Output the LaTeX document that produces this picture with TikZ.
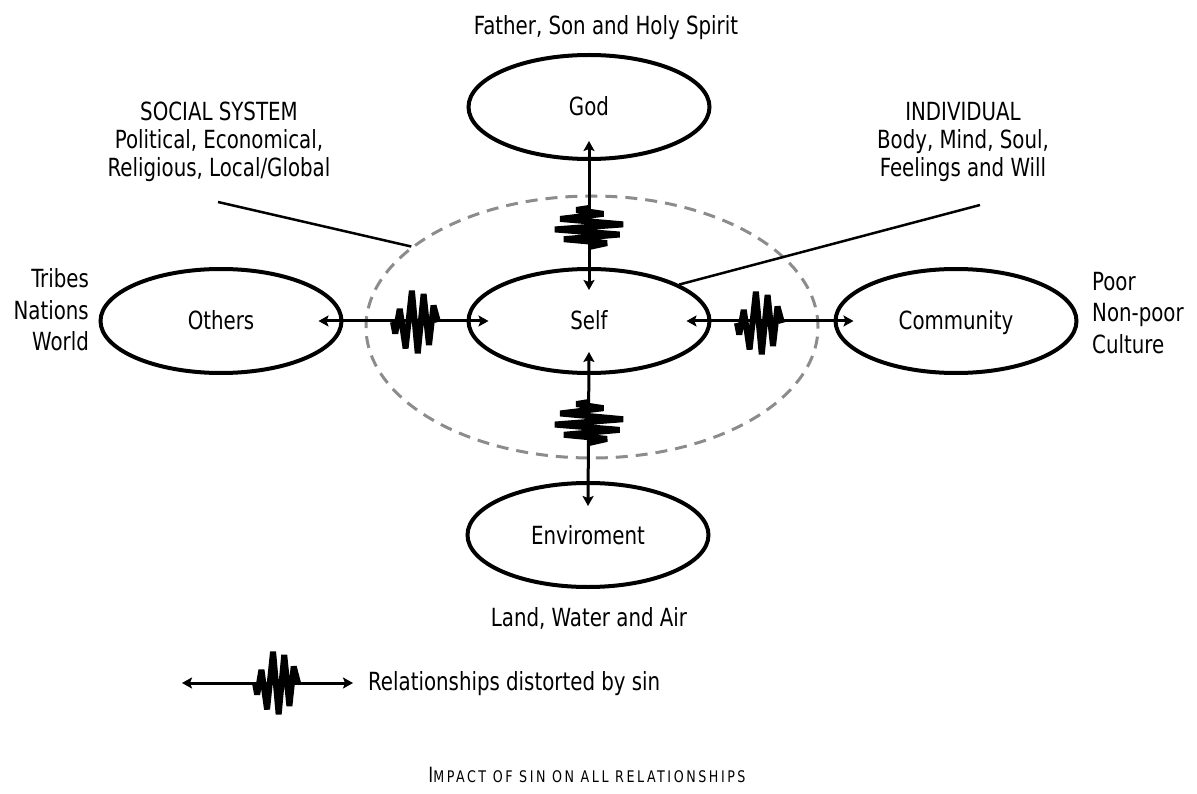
\documentclass[tikz,border=0pt]{standalone}
\usepackage{fontspec}
\setmainfont{DejaVu Sans Condensed}[FakeStretch=0.88]
\usetikzlibrary{arrows.meta,shapes.geometric}

\tikzset{
  bubble/.style={ellipse, draw, line width=4pt, minimum width=241pt,
    minimum height=104pt, inner sep=0pt, text height=18pt, text depth=0pt,
    font=\fontsize{25}{28}\selectfont},
  tie/.style={line width=3pt,
    {Stealth[length=10pt,width=11pt,inset=2pt]}-{Stealth[length=10pt,width=11pt,inset=2pt]}},
  callout/.style={line width=2.5pt},
  note/.style={inner sep=0pt, font=\fontsize{25}{28}\selectfont},
  sidenote/.style={inner sep=0pt, font=\fontsize{25}{31.5}\selectfont},
  zig/.style={line width=6pt, line join=miter, miter limit=3},
  pics/burst/.style 2 args={code={
    \draw[zig] (0,0) -- (0.05*#1,0.35*#2) -- (0.15*#1,-0.4*#2)
      -- (0.28*#1,0.8*#2) -- (0.42*#1,-0.95*#2) -- (0.55*#1,0.95*#2)
      -- (0.68*#1,-0.85*#2) -- (0.8*#1,0.7*#2) -- (0.9*#1,-0.5*#2)
      -- (#1,0);
  }}
}

\begin{document}
\begin{tikzpicture}[x=1pt,y=-1pt]
\useasboundingbox (0,0) rectangle (1197,794);

% social system boundary
\node[ellipse, draw=black!45, line width=3pt, dash pattern=on 12pt off 8pt,
      minimum width=452pt, minimum height=262pt, inner sep=0pt] (sys) at (592,327) {};

% the five spheres of relationship
\node[bubble] (god)    at (589,107) {God};
\node[bubble] (self)   at (589,321) {Self};
\node[bubble] (others) at (221,321) {Others};
\node[bubble] (comm)   at (956,321) {Community};
\node[bubble] (env)    at (588,535) {Enviroment};

% relationships
\draw[tie] ([xshift=-25pt]others.east) -- ([xshift=22pt]self.west);
\draw[tie] ([xshift=-25pt]self.east) -- ([xshift=20pt]comm.west);
\draw[tie] ([yshift=20pt]god.south) -- ([yshift=-23pt]self.north);
\draw[tie] ([yshift=23pt]self.south) -- ([yshift=-25pt]env.north);

% distortion marks
\pic at (393,322) {burst={45}{33}};
\pic at (737,323) {burst={45}{33}};
\pic[rotate=-90] at (589,208) {burst={39}{36}};
\pic[rotate=-90] at (589,402) {burst={41}{36}};

% descriptions
\node[note, anchor=base] (father) at (606,35) {Father, Son and Holy Spirit};
\node[note, anchor=base] (land) at (589,626) {Land, Water and Air};
\node[note, align=center] (social) at (219,142)
  {SOCIAL SYSTEM\\Political, Economical,\\Religious, Local/Global};
\node[note, align=center] (indiv) at (963,142)
  {INDIVIDUAL\\Body, Mind, Soul,\\Feelings and Will};
\node[sidenote, align=right, anchor=east] (tribes) at (89,310) {Tribes\\Nations\\World};
\node[sidenote, align=left, anchor=west] (poor) at (1092,313) {Poor\\Non-poor\\Culture};

\coordinate (socialtail) at (218,202);
\draw[callout] (socialtail) -- (sys.156);
\coordinate (indtail) at (980,205);
\draw[callout] (indtail) -- (self.22);

% legend
\coordinate (legl) at (182,683);
\coordinate (legr) at (353,683);
\draw[tie] (legl) -- (legr);
\pic at (255,683) {burst={43}{33}};
\node[note, anchor=west, text height=18pt, text depth=0pt] (legtext) at (368,681)
  {Relationships distorted by sin};

% caption
\node[inner sep=0pt, anchor=base] (caption) at (587,782)
  {\addfontfeature{LetterSpace=16}\fontsize{21}{22}\selectfont I\fontsize{16}{16}\selectfont MPACT OF SIN ON ALL RELATIONSHIPS};
\end{tikzpicture}
\end{document}
